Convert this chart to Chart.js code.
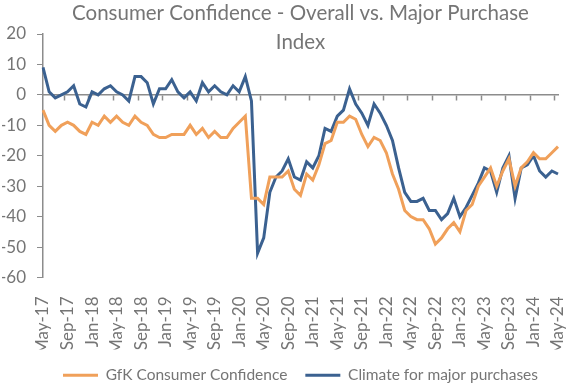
<!DOCTYPE html>
<html>
<head>
<meta charset="utf-8">
<script src="https://cdn.jsdelivr.net/npm/chart.js@4.4.1/dist/chart.umd.min.js"></script>
<style>
  html, body { margin: 0; padding: 0; background: #fff; }
  #wrap { width: 573px; height: 386px; }
</style>
</head>
<body>
<div id="wrap"><canvas id="chart1"></canvas></div>
<script>
const months = [
  "May-17", "Jun-17", "Jul-17", "Aug-17", "Sep-17", "Oct-17", "Nov-17", "Dec-17",
  "Jan-18", "Feb-18", "Mar-18", "Apr-18", "May-18", "Jun-18", "Jul-18", "Aug-18", "Sep-18", "Oct-18", "Nov-18", "Dec-18",
  "Jan-19", "Feb-19", "Mar-19", "Apr-19", "May-19", "Jun-19", "Jul-19", "Aug-19", "Sep-19", "Oct-19", "Nov-19", "Dec-19",
  "Jan-20", "Feb-20", "Mar-20", "Apr-20", "May-20", "Jun-20", "Jul-20", "Aug-20", "Sep-20", "Oct-20", "Nov-20", "Dec-20",
  "Jan-21", "Feb-21", "Mar-21", "Apr-21", "May-21", "Jun-21", "Jul-21", "Aug-21", "Sep-21", "Oct-21", "Nov-21", "Dec-21",
  "Jan-22", "Feb-22", "Mar-22", "Apr-22", "May-22", "Jun-22", "Jul-22", "Aug-22", "Sep-22", "Oct-22", "Nov-22", "Dec-22",
  "Jan-23", "Feb-23", "Mar-23", "Apr-23", "May-23", "Jun-23", "Jul-23", "Aug-23", "Sep-23", "Oct-23", "Nov-23", "Dec-23",
  "Jan-24", "Feb-24", "Mar-24", "Apr-24", "May-24"
];

// GfK overall consumer confidence
const confidence = [
  -5, -10, -12, -10, -9, -10, -12, -13,
  -9, -10, -7, -9, -7, -9, -10, -7, -9, -10, -13, -14,
  -14, -13, -13, -13, -10, -13, -11, -14, -12, -14, -14, -11,
  -9, -7, -34, -34, -36, -27, -27, -27, -25, -31, -33, -26,
  -28, -23, -16, -15, -9, -9, -7, -8, -13, -17, -14, -15,
  -19, -26, -31, -38, -40, -41, -41, -44, -49, -47, -44, -42,
  -45, -38, -36, -30, -27, -24, -30, -25, -21, -30, -24, -22,
  -19, -21, -21, -19, -17
];

// major purchase index
const majorPurchases = [
  9, 1, -1, 0, 1, 3, -3, -4,
  1, 0, 2, 3, 1, 0, -2, 6, 6, 4, -3, 2,
  2, 5, 1, -1, 1, -2, 4, 1, 3, 1, 0, 3,
  1, 6, -2, -52, -47, -32, -27, -25, -21, -27, -28, -22,
  -24, -20, -11, -12, -7, -5, 2, -3, -6, -10, -3, -6,
  -10, -15, -24, -32, -35, -35, -34, -38, -38, -41, -39, -34,
  -40, -37, -33, -29, -24, -25, -32, -24, -20, -34, -24, -23,
  -20, -25, -27, -25, -26
];

const yTicks = [20, 10, 0, -10, -20, -30, -40, -50, -60];

const textGray = "#757575";
const axisGray = "#8c8c8c";
const orange = "#f0a05a";
const blue = "#3b6190";
const font = "Lato";

const ctx1 = document.getElementById("chart1").getContext("2d");
const chart1 = new Chart(ctx1, {
  type: "line",
  data: {
    labels: months,
    datasets: [
      {
        label: "GfK Consumer Confidence",
        data: confidence,
        borderColor: orange,
        backgroundColor: orange,
        borderWidth: 3,
        pointRadius: 0,
        tension: 0,
      },
      {
        label: "Climate for major purchases",
        data: majorPurchases,
        borderColor: blue,
        backgroundColor: blue,
        borderWidth: 3,
        pointRadius: 0,
        tension: 0,
      },
    ],
  },
  options: {
    responsive: true,
    maintainAspectRatio: false,
    animation: false,
    layout: { padding: { left: 2, right: 15, top: 0, bottom: -7 } },
    scales: {
      x: {
        type: "category",
        offset: false,
        grid: { display: false },
        border: { display: false },
        afterFit: (axis) => {
          axis.height = 72;
          axis.paddingLeft = 0;
          axis.paddingRight = 0;
        },
        ticks: {
          autoSkip: false,
          minRotation: 90,
          maxRotation: 90,
          padding: 11,
          color: textGray,
          font: { family: font, size: 17 },
          callback: function (value, index) {
            return index % 4 === 0 ? months[index] : "";
          },
        },
      },
      // axis line through zero with the small tick marks
      x2: {
        type: "category",
        labels: months,
        position: { y: 0 },
        offset: false,
        grid: {
          offset: true,
          drawOnChartArea: false,
          drawTicks: true,
          tickLength: 5,
          tickWidth: 1.5,
          tickColor: (c) => (c.index % 4 === 0 ? axisGray : "rgba(0,0,0,0)"),
        },
        border: { display: true, color: axisGray, width: 1.5 },
        ticks: { display: false, autoSkip: false },
      },
      y: {
        min: -60,
        max: 20,
        afterBuildTicks: (axis) => {
          axis.ticks = yTicks.map((v) => ({ value: v }));
        },
        afterFit: (axis) => {
          axis.width = 41;
        },
        grid: {
          drawOnChartArea: false,
          drawTicks: true,
          tickLength: 6,
          color: axisGray,
        },
        border: { display: true, color: axisGray, width: 1.5 },
        ticks: {
          padding: 11,
          color: textGray,
          font: { family: font, size: 17 },
        },
      },
    },
    plugins: {
      title: {
        display: true,
        fullSize: false,
        text: ["Consumer Confidence - Overall vs. Major Purchase", "Index"],
        color: textGray,
        font: { family: font, size: 20.5, weight: "normal", lineHeight: "29px" },
        padding: { top: -1.5, bottom: -22.5 },
      },
      legend: {
        position: "bottom",
        fullSize: false,
        labels: {
          color: textGray,
          font: { family: font, size: 15.5 },
          boxWidth: 35,
          boxHeight: 3,
          padding: 18,
          generateLabels: (chart) =>
            Chart.defaults.plugins.legend.labels.generateLabels(chart).map((item) => {
              item.lineWidth = 0;
              return item;
            }),
        },
      },
      tooltip: { enabled: false },
    },
  },
});
</script>
</body>
</html>
